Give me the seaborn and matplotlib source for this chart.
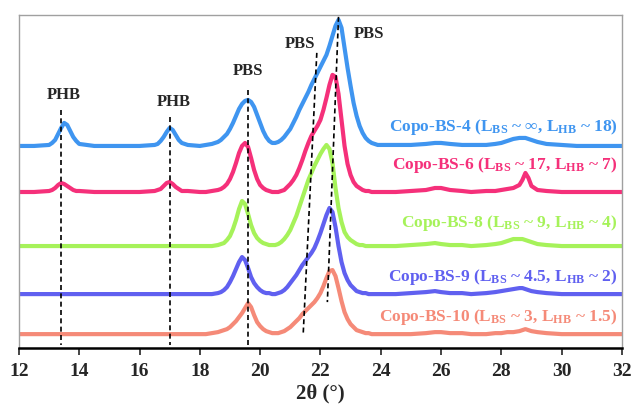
import pandas as pd
import matplotlib
matplotlib.use("Agg")
import matplotlib.pyplot as plt
import seaborn as sns

two_theta = [12, 12.5, 13.0, 13.1, 13.2, 13.3, 13.4, 13.5, 13.6, 13.7, 13.8, 13.9, 14.0, 14.5,
             15, 15.5, 16, 16.5, 16.6, 16.7, 16.8, 16.9, 17.0, 17.1, 17.2, 17.3, 17.4, 17.6, 18.0,
             18.2, 18.4, 18.6, 18.7, 18.8, 18.9, 19.0, 19.1, 19.2, 19.3, 19.4, 19.5, 19.6, 19.7,
             19.8, 19.9, 20.0, 20.1, 20.2, 20.3, 20.4, 20.5, 20.6, 20.7, 20.8, 20.9, 21.0, 21.1,
             21.2, 21.3, 21.4, 21.5, 21.6, 21.7, 21.8, 21.9, 22.0, 22.1, 22.2, 22.3, 22.4, 22.5,
             22.6, 22.7, 22.8, 22.9, 23.0, 23.1, 23.2, 23.3, 23.4, 23.5, 23.6, 23.7, 23.8, 23.9,
             24.0, 24.5, 25, 25.5, 25.8, 26, 26.3, 26.7, 27, 27.5, 27.8, 28.0, 28.2, 28.4, 28.6,
             28.7, 28.8, 28.9, 29.0, 29.2, 29.5, 30, 30.5, 31, 31.5, 32]

# intensities (a.u., already stacked)
bs4 = [202, 202, 203, 205, 208, 214, 220, 225, 223, 217, 211, 207, 204, 202,
       202, 202, 202, 203, 204, 207, 211, 216, 220, 218, 213, 208, 205, 203, 202,
       203, 204, 206, 208, 211, 214, 219, 225, 232, 239, 244, 247, 248, 246,
       241, 233, 225, 217, 211, 207, 205, 205, 206, 208, 211, 215, 219, 225,
       231, 238, 244, 250, 256, 263, 269, 275, 281, 287, 293, 302, 312, 322,
       328, 320, 300, 280, 262, 245, 232, 222, 215, 210, 207, 205, 204, 203,
       203, 203, 203, 204, 205, 205, 204, 203, 203, 203, 204, 205, 207, 209, 210,
       210, 210, 209, 208, 206, 204, 203, 202, 202, 202, 202]
bs6 = [156, 156, 157, 158, 160, 163, 165, 164, 162, 160, 158, 157, 157, 156,
       156, 156, 156, 157, 158, 159, 162, 165, 166, 164, 161, 159, 157, 157, 156,
       156, 157, 158, 159, 161, 164, 169, 176, 185, 195, 202, 205, 201, 190,
       178, 169, 163, 160, 158, 157, 156, 156, 156, 157, 158, 161, 164, 168,
       173, 180, 188, 197, 205, 212, 217, 222, 228, 238, 250, 263, 273, 271,
       254, 228, 202, 184, 173, 166, 162, 160, 158, 157, 157, 156, 156, 156,
       156, 156, 157, 158, 160, 160, 158, 157, 156, 157, 157, 158, 159, 160, 163,
       168, 175, 170, 162, 158, 157, 156, 156, 156, 156, 156]
bs8 = [102, 102, 102, 102, 102, 102, 102, 102, 102, 102, 102, 102, 102, 102,
       102, 102, 102, 102, 102, 102, 102, 102, 102, 102, 102, 102, 102, 102, 102,
       102, 102, 103, 104, 105, 108, 112, 119, 128, 139, 147, 144, 134, 123,
       115, 110, 107, 105, 104, 103, 103, 103, 104, 106, 109, 113, 118, 125,
       132, 141, 150, 159, 168, 175, 182, 188, 194, 199, 203, 199, 185, 160,
       140, 126, 116, 111, 108, 106, 104, 103, 103, 102, 102, 102, 102, 102,
       102, 102, 103, 104, 105, 104, 103, 103, 102, 103, 104, 105, 107, 109, 109,
       109, 108, 107, 106, 104, 103, 102, 102, 102, 102, 102]
bs9 = [54, 54, 54, 54, 54, 54, 54, 54, 54, 54, 54, 54, 54, 54,
       54, 54, 54, 54, 54, 54, 54, 54, 54, 54, 54, 54, 54, 54, 54,
       54, 54, 55, 56, 58, 61, 66, 72, 79, 86, 91, 88, 80, 71,
       65, 61, 58, 56, 55, 55, 54, 54, 55, 56, 58, 61, 65, 69,
       73, 78, 83, 87, 91, 95, 100, 107, 115, 124, 133, 140, 136, 121,
       102, 86, 75, 68, 63, 60, 57, 56, 55, 55, 54, 54, 54, 54,
       54, 54, 55, 56, 57, 56, 55, 55, 54, 55, 56, 57, 58, 59, 60,
       60, 59, 58, 57, 56, 55, 54, 54, 54, 54, 54]
bs10 = [14, 14, 14, 14, 14, 14, 14, 14, 14, 14, 14, 14, 14, 14,
        14, 14, 14, 14, 14, 14, 14, 14, 14, 14, 14, 14, 14, 14, 14,
        14, 15, 16, 17, 18, 19, 21, 24, 27, 31, 35, 40, 45, 41,
        33, 26, 22, 19, 17, 16, 15, 15, 15, 16, 17, 19, 21, 24,
        27, 30, 34, 37, 40, 43, 46, 50, 55, 62, 70, 77, 78, 72,
        60, 47, 36, 29, 24, 21, 18, 17, 16, 15, 15, 14, 14, 14,
        14, 14, 14, 15, 16, 16, 15, 15, 14, 14, 15, 15, 16, 16, 17,
        18, 19, 18, 17, 16, 15, 14, 14, 14, 14, 14]

samples = ["Copo-BS-4", "Copo-BS-6", "Copo-BS-8", "Copo-BS-9", "Copo-BS-10"]
sample_labels = [r"Copo-BS-4 (L$_{BS}$ ~ ∞, L$_{HB}$ ~ 18)",
                 r"Copo-BS-6 (L$_{BS}$ ~ 17, L$_{HB}$ ~ 7)",
                 r"Copo-BS-8 (L$_{BS}$ ~ 9, L$_{HB}$ ~ 4)",
                 r"Copo-BS-9 (L$_{BS}$ ~ 4.5, L$_{HB}$ ~ 2)",
                 r"Copo-BS-10 (L$_{BS}$ ~ 3, L$_{HB}$ ~ 1.5)"]
label_y = [221, 183, 125, 71, 31]
colors = ["#3f95f0", "#f5307a", "#a6f25a", "#6060f0", "#f58a78"]

# reflection markers: (x_top, y_top, x_bottom, y_bottom) and their names
ref_lines = [(13.4, 238, 13.4, 3), (17.0, 231, 17.0, 3), (19.6, 258, 19.6, 3),
             (21.88, 295, 21.43, 15), (22.6, 331, 22.23, 46)]
ref_names = ["PHB", "PHB", "PBS", "PBS", "PBS"]
ref_name_xy = [(13.5, 253), (17.15, 246), (19.6, 277), (21.33, 304), (23.6, 314)]

df = pd.DataFrame({"two_theta": two_theta * 5,
                   "intensity": bs4 + bs6 + bs8 + bs9 + bs10,
                   "sample": [s for s in samples for _ in two_theta]})

sns.set_style("white")
plt.rcParams["font.family"] = ["Liberation Serif", "DejaVu Serif"]
plt.rcParams["font.weight"] = "bold"
plt.rcParams["mathtext.fontset"] = "custom"
plt.rcParams["mathtext.rm"] = "Liberation Serif:bold"
plt.rcParams["mathtext.it"] = "Liberation Serif:bold"
plt.rcParams["mathtext.bf"] = "Liberation Serif:bold"

fig = plt.figure(figsize=(6.32, 4.12), dpi=100)
ax = fig.add_axes([0.030, 0.155, 0.954, 0.809])

sns.lineplot(data=df, x="two_theta", y="intensity", hue="sample", palette=colors,
             hue_order=samples, linewidth=3.0, legend=False, ax=ax, sort=False)

for (x0, y0, x1, y1) in ref_lines:
    ax.plot([x0, x1], [y0, y1], color="black", linestyle=(0, (3, 2)), linewidth=1.2, zorder=3)
for name, (tx, ty) in zip(ref_names, ref_name_xy):
    ax.text(tx, ty, name, ha="center", va="center", fontsize=12, fontweight="bold")

for lab, ly, c in zip(sample_labels, label_y, colors):
    ax.text(31.85, ly, lab, ha="right", va="center", fontsize=12.5, fontweight="bold", color=c)

ax.set_xlim(12, 32)
ax.set_ylim(0, 333)
ax.set_xticks(range(12, 33, 2))
ax.set_yticks([])
ax.set_xlabel("2θ (°)", fontsize=15, fontweight="bold", labelpad=2)
ax.set_ylabel("")
ax.tick_params(axis="x", direction="out", length=5, width=1.2, labelsize=14, pad=6, bottom=True)
for lbl in ax.get_xticklabels():
    lbl.set_fontweight("bold")
for side in ["top", "left", "right"]:
    ax.spines[side].set_color("#a0a0a0")
    ax.spines[side].set_linewidth(1.0)
ax.spines["bottom"].set_color("black")
ax.spines["bottom"].set_linewidth(1.8)

fig.savefig("out.png", dpi=100)
